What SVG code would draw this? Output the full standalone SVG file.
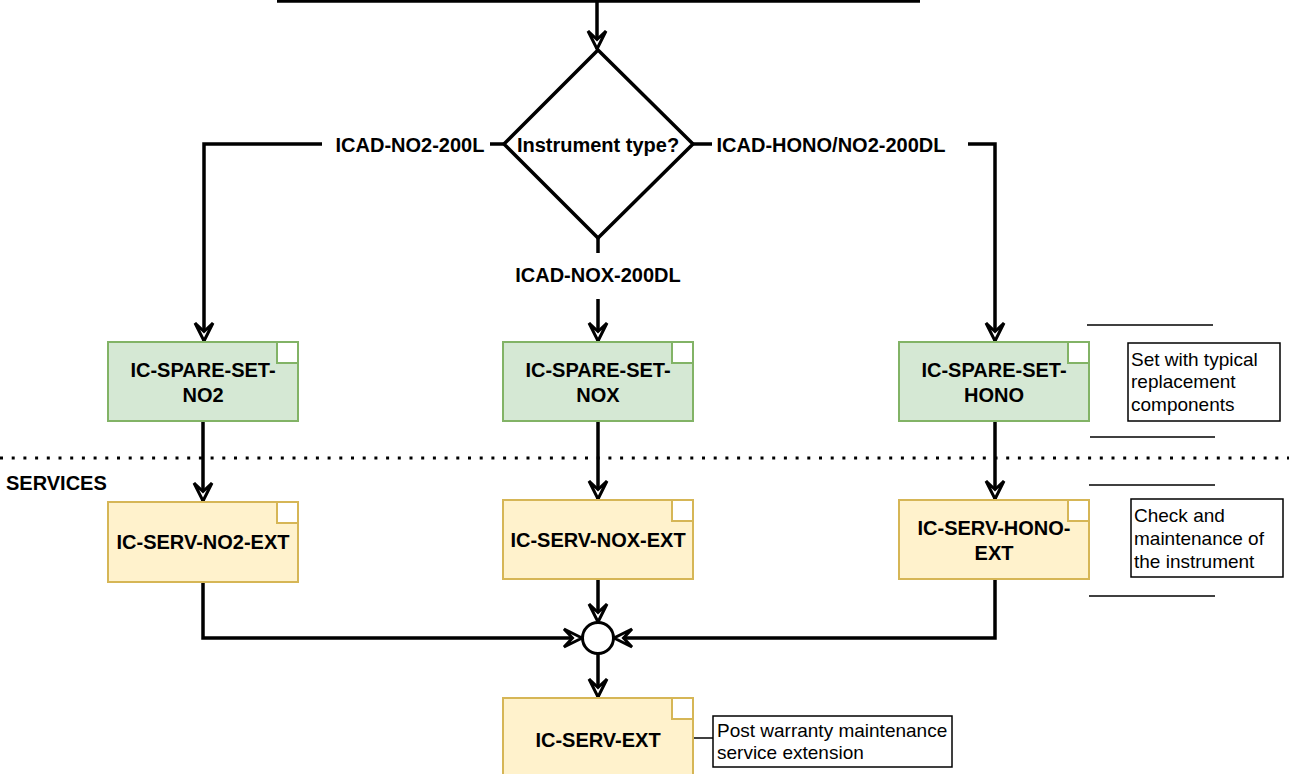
<svg xmlns="http://www.w3.org/2000/svg" width="1289" height="774" viewBox="0 0 1289 774">
<style>
.b{font-family:"Liberation Sans",Arial,sans-serif;font-weight:bold;font-size:20px;fill:#000;text-anchor:middle}
.r{font-family:"Liberation Sans",Arial,sans-serif;font-size:19px;fill:#000}
.c{fill:none;stroke:#000;stroke-width:3.5}
.g{fill:#d5e8d4;stroke:#82b366;stroke-width:2}
.y{fill:#fff2cc;stroke:#d6b656;stroke-width:2}
.gs{fill:#fff;stroke:#82b366;stroke-width:2}
.ys{fill:#fff;stroke:#d6b656;stroke-width:2}
.n{fill:#fff;stroke:#000;stroke-width:1.5}
.l{stroke:#000;stroke-width:1.5}
</style>
<defs>
<marker id="a" markerUnits="userSpaceOnUse" markerWidth="28" markerHeight="24" refX="21" refY="11" orient="auto" overflow="visible">
<path d="M21,11 L3,2 L11.5,11 L3,20 Z" fill="#fff" stroke="#000" stroke-width="3"/>
</marker>
</defs>
<rect width="1289" height="774" fill="#fff"/>
<g id="connectors">
<line x1="277" y1="1" x2="920" y2="1" class="c"/>
<path d="M597,1 V49" class="c" marker-end="url(#a)"/>
<path d="M504,144 H204 V341" class="c" marker-end="url(#a)"/>
<path d="M693,144 H995 V341" class="c" marker-end="url(#a)"/>
<path d="M598,238 V341" class="c" marker-end="url(#a)"/>
<path d="M203,422 V501" class="c" marker-end="url(#a)"/>
<path d="M598,421 V499" class="c" marker-end="url(#a)"/>
<path d="M995,421 V499" class="c" marker-end="url(#a)"/>
<path d="M203,583 V638 H582" class="c" marker-end="url(#a)"/>
<path d="M995,579 V638 H614" class="c" marker-end="url(#a)"/>
<path d="M598,579 V622" class="c" marker-end="url(#a)"/>
<path d="M598,654 V697" class="c" marker-end="url(#a)"/>
<line x1="693" y1="738" x2="713" y2="738" class="l"/>
<rect x="322" y="130" width="168" height="30" fill="#fff"/>
<text x="410" y="152" class="b">ICAD-NO2-200L</text>
<rect x="712" y="130" width="256" height="30" fill="#fff"/>
<text x="831" y="152" class="b">ICAD-HONO/NO2-200DL</text>
<rect x="510" y="253" width="176" height="46" fill="#fff"/>
<text x="598" y="282" class="b">ICAD-NOX-200DL</text>
</g>
<g id="decision">
<path d="M598,50 L693,144 L598,238 L504,144 Z" fill="#fff" stroke="#000" stroke-width="3.5"/>
<text x="598" y="152" class="b">Instrument type?</text>
</g>
<g id="spare-no2">
<rect x="108" y="342" width="190" height="79" class="g"/>
<rect x="277" y="342" width="21" height="21" class="gs"/>
<text x="203" y="377" class="b">IC-SPARE-SET-</text>
<text x="203" y="402" class="b">NO2</text>
</g>
<g id="spare-nox">
<rect x="503" y="342" width="190" height="79" class="g"/>
<rect x="672" y="342" width="21" height="21" class="gs"/>
<text x="598" y="377" class="b">IC-SPARE-SET-</text>
<text x="598" y="402" class="b">NOX</text>
</g>
<g id="spare-hono">
<rect x="899" y="342" width="190" height="79" class="g"/>
<rect x="1068" y="342" width="21" height="21" class="gs"/>
<text x="994" y="377" class="b">IC-SPARE-SET-</text>
<text x="994" y="402" class="b">HONO</text>
</g>
<g id="separator">
<line x1="0" y1="458" x2="1289" y2="458" stroke="#000" stroke-width="3" stroke-dasharray="3 8.7"/>
<text x="6" y="490" class="b" style="text-anchor:start">SERVICES</text>
</g>
<g id="serv-no2">
<rect x="108" y="502" width="190" height="80" class="y"/>
<rect x="277" y="502" width="21" height="21" class="ys"/>
<text x="203" y="549" class="b">IC-SERV-NO2-EXT</text>
</g>
<g id="serv-nox">
<rect x="503" y="500" width="190" height="79" class="y"/>
<rect x="672" y="500" width="21" height="21" class="ys"/>
<text x="598" y="547" class="b">IC-SERV-NOX-EXT</text>
</g>
<g id="serv-hono">
<rect x="899" y="500" width="190" height="79" class="y"/>
<rect x="1068" y="500" width="21" height="21" class="ys"/>
<text x="994" y="535" class="b">IC-SERV-HONO-</text>
<text x="994" y="560" class="b">EXT</text>
</g>
<g id="merge">
<circle cx="598" cy="638" r="15.5" fill="#fff" stroke="#000" stroke-width="3"/>
</g>
<g id="serv-ext">
<rect x="503" y="698" width="190" height="84" class="y"/>
<rect x="672" y="698" width="21" height="21" class="ys"/>
<text x="598" y="747" class="b">IC-SERV-EXT</text>
</g>
<g id="note-spare">
<line x1="1087" y1="325" x2="1213" y2="325" class="l"/>
<line x1="1090" y1="437" x2="1215" y2="437" class="l"/>
<rect x="1128" y="343" width="152" height="78" class="n"/>
<text class="r"><tspan x="1131" y="366">Set with typical</tspan><tspan x="1131" y="388">replacement</tspan><tspan x="1131" y="411">components</tspan></text>
</g>
<g id="note-serv">
<line x1="1089" y1="485" x2="1215" y2="485" class="l"/>
<line x1="1089" y1="596" x2="1215" y2="596" class="l"/>
<rect x="1131" y="499" width="152" height="78" class="n"/>
<text class="r"><tspan x="1134" y="522">Check and</tspan><tspan x="1134" y="545">maintenance of</tspan><tspan x="1134" y="568">the instrument</tspan></text>
</g>
<g id="note-ext">
<rect x="713" y="716" width="239" height="51" class="n"/>
<text class="r"><tspan x="717" y="737">Post warranty maintenance</tspan><tspan x="717" y="759">service extension</tspan></text>
</g>
</svg>
